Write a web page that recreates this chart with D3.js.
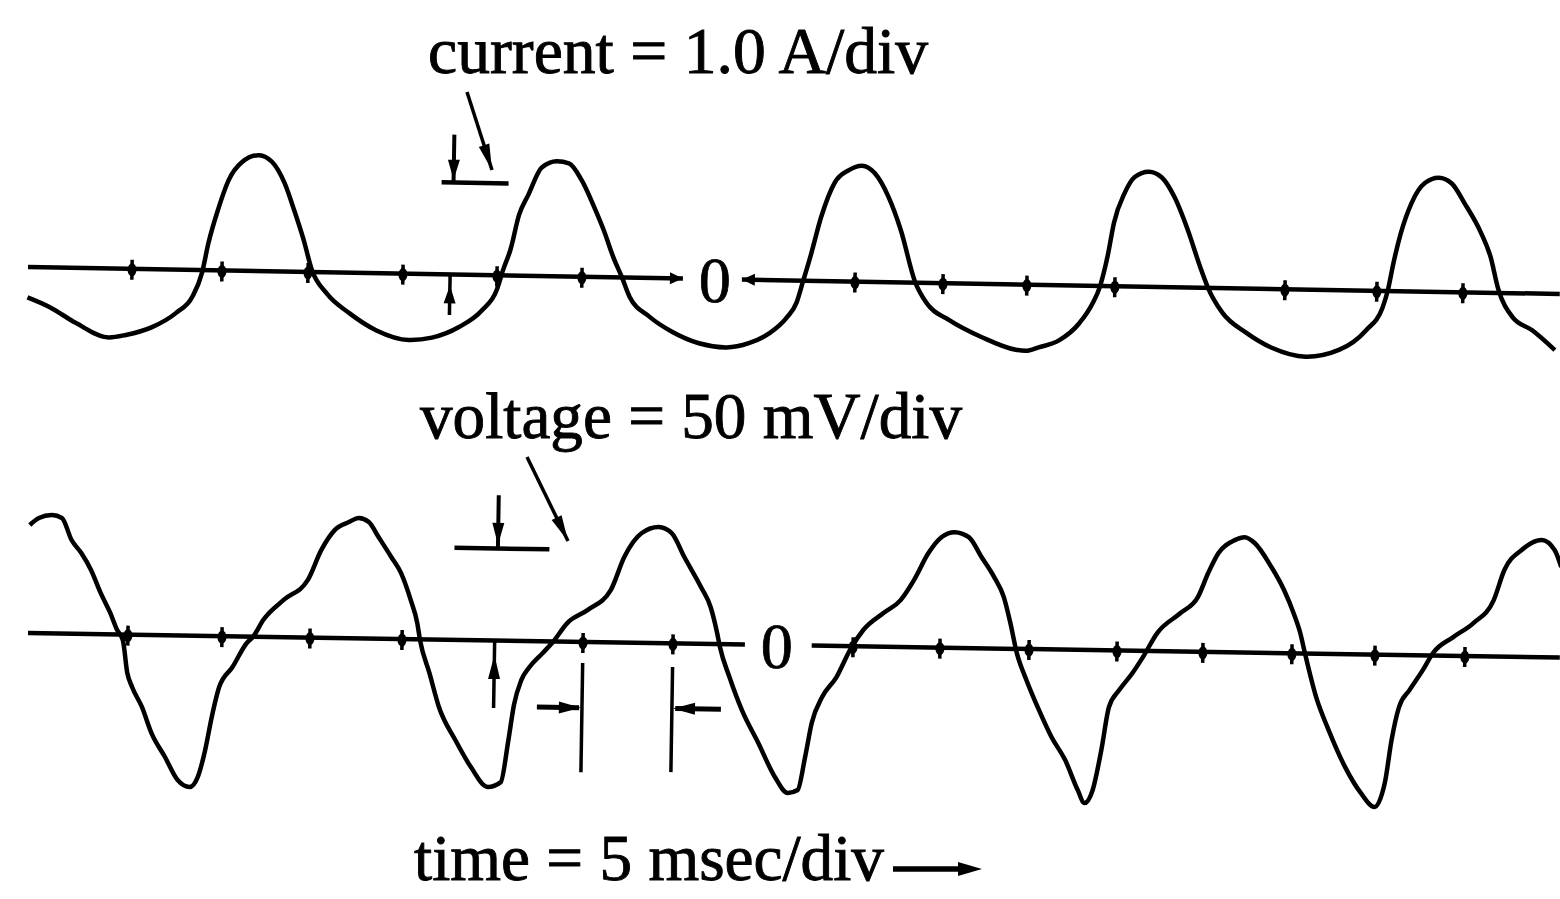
<!DOCTYPE html>
<html>
<head>
<meta charset="utf-8">
<script src="https://cdn.jsdelivr.net/npm/d3@7"></script>
<style>
  html, body { margin: 0; background: #fff; }
  svg { display: block; }
  text { font-family: "Liberation Serif", "Times New Roman", serif; fill: #000; }
</style>
</head>
<body>
<svg id="scope" width="1560" height="899"></svg>
<script>
// Oscilloscope trace: current (A) and voltage (mV) against time (ms), 5 ms/div.
// Values, one division = 1 A / 50 mV vertically.

const currentTrace = [
  [0.00,-0.33],[1.24,-0.43],[2.75,-0.60],[4.60,-0.75],[5.56,-0.72],[7.02,-0.63],[8.36,-0.47],
  [9.26,-0.29],[9.77,-0.03],[10.11,0.30],[10.61,0.66],[11.17,0.98],[11.90,1.18],[12.86,1.26],
  [13.59,1.19],[14.32,0.96],[14.88,0.67],[15.44,0.35],[15.94,0.02],[16.79,-0.23],[18.08,-0.44],
  [19.59,-0.62],[21.45,-0.72],[22.74,-0.69],[24.25,-0.57],[25.54,-0.38],[26.33,-0.16],[26.67,0.06],
  [27.06,0.28],[27.51,0.66],[28.01,0.88],[28.74,1.18],[29.59,1.25],[30.26,1.23],[30.99,1.05],
  [31.72,0.76],[32.28,0.51],[32.84,0.22],[33.35,0.00],[33.80,-0.21],[34.92,-0.42],[36.21,-0.58],
  [37.73,-0.70],[39.24,-0.74],[40.53,-0.69],[41.66,-0.58],[42.61,-0.41],[43.17,-0.24],[43.51,-0.01],
  [43.90,0.26],[44.46,0.69],[45.19,1.07],[45.98,1.21],[46.71,1.26],[47.44,1.18],[48.22,0.93],
  [48.95,0.57],[49.80,0.01],[50.47,-0.22],[51.76,-0.40],[53.61,-0.58],[55.52,-0.71],[56.08,-0.72],
  [56.81,-0.68],[57.94,-0.60],[59.06,-0.41],[59.79,-0.19],[60.18,-0.01],[60.58,0.32],[60.91,0.69],
  [61.47,1.01],[62.03,1.19],[62.82,1.25],[63.55,1.19],[64.28,0.98],[65.07,0.62],[65.80,0.22],
  [66.25,0.00],[67.09,-0.27],[68.43,-0.48],[69.89,-0.64],[71.80,-0.73],[73.66,-0.65],[75.17,-0.43],
  [76.07,-0.18],[76.35,0.01],[76.63,0.30],[77.02,0.63],[77.59,0.96],[78.32,1.18],[79.10,1.24],
  [79.83,1.18],[80.56,0.97],[81.52,0.65],[82.08,0.39],[82.53,0.05],[83.37,-0.26],[84.49,-0.40],
  [85.78,-0.61]
];

const voltageTrace = [
  [0.00,58.7],[0.51,62.6],[1.24,64.3],[1.80,62.8],[2.36,50.9],[2.92,43.9],[3.48,34.8],[4.04,22.4],
  [4.60,11.6],[5.00,2.4],[5.33,-3.0],[5.61,-20.9],[5.89,-28.4],[6.46,-39.2],[7.02,-53.3],[7.80,-66.2],
  [8.53,-78.6],[9.21,-82.3],[9.66,-76.7],[10.05,-62.0],[10.39,-44.0],[10.78,-27.7],[11.51,-16.7],
  [12.29,-3.5],[12.63,-0.2],[13.19,9.1],[14.32,20.2],[15.66,31.3],[16.39,47.7],[17.12,58.6],
  [17.91,63.1],[18.47,65.4],[19.03,63.3],[19.59,55.2],[20.32,44.5],[20.88,35.9],[21.45,21.3],
  [21.84,8.8],[22.01,-0.4],[22.57,-18.3],[23.13,-36.6],[24.08,-54.4],[24.98,-69.0],[25.94,-79.7],
  [26.67,-76.9],[27.06,-54.0],[27.34,-34.9],[27.73,-21.3],[28.18,-14.1],[28.91,-6.4],[29.47,-0.3],
  [30.26,10.1],[31.38,17.3],[32.67,28.4],[33.40,46.5],[34.36,59.7],[35.31,63.1],[36.04,59.9],
  [36.77,47.0],[37.73,30.9],[38.29,20.1],[38.68,6.0],[38.85,-1.6],[39.41,-17.8],[40.14,-35.7],
  [41.09,-53.4],[42.05,-71.7],[42.78,-80.3],[43.34,-78.6],[43.73,-60.6],[44.07,-42.1],[44.63,-27.9],
  [45.42,-16.9],[46.15,-2.1],[46.88,8.9],[48.00,18.3],[48.95,25.5],[49.68,36.5],[50.47,51.3],
  [51.20,60.1],[51.93,62.9],[52.72,60.3],[53.45,49.6],[54.18,38.8],[54.74,28.0],[55.13,14.0],
  [55.52,-2.3],[56.08,-16.8],[56.81,-33.0],[57.54,-47.6],[58.33,-60.0],[59.06,-76.2],[59.45,-83.2],
  [59.90,-76.0],[60.35,-54.2],[60.74,-30.8],[61.30,-21.5],[62.03,-12.1],[62.60,-3.4],[63.38,9.8],
  [64.67,20.9],[65.63,29.7],[66.19,42.9],[66.75,53.8],[67.65,61.0],[68.21,62.7],[68.77,59.6],
  [69.73,46.7],[70.46,34.3],[71.02,21.8],[71.41,11.1],[71.69,0.2],[72.36,-23.6],[73.09,-41.4],
  [74.05,-61.4],[74.95,-75.3],[75.73,-82.8],[76.29,-69.7],[76.63,-46.3],[77.02,-28.3],[77.59,-19.0],
  [78.32,-8.0],[78.88,1.4],[80.00,10.2],[81.12,18.0],[82.24,30.7],[82.81,47.1],[83.76,58.1],
  [84.88,63.7],[85.61,58.4],[86.00,49.2]
];

// graticule marks along each zero line (ms)
const currentTicks = [5.84, 10.89, 15.72, 21.05, 26.33, 31.10, 46.43, 51.37, 56.08, 61.02, 70.57, 75.73, 80.56];
const voltageTicks = [5.61, 10.89, 15.83, 21.00, 31.16, 36.21, 46.32, 51.20, 56.20, 61.14, 65.96, 70.96, 75.62, 80.67];
// where each zero line is broken for its "0" label (ms)
const currentGap = [36.77, 40.08];
const voltageGap = [40.25, 44.00];
const zeroAt = [38.57, 42.05];

const captions = ["current = 1.0 A/div", "voltage = 50 mV/div", "time = 5 msec/div"];

const INK = "#000";
const svg = d3.select("#scope");
const T_END = 86;
const x = d3.scaleLinear().domain([0, T_END]).range([28, 1560]);
const yCur = d3.scaleLinear().domain([-1, 1]).range([267 + 92, 267 - 92]);
const yVolt = d3.scaleLinear().domain([-50, 50]).range([633 + 92, 633 - 92]);

const traceLine = ys => d3.line()
  .x(d => x(d[0])).y(d => ys(d[1]))
  .curve(d3.curveMonotoneX);

// filled arrowhead, tip at (tx,ty), pointing along ang (radians)
function head(g, tx, ty, ang, len, wid) {
  const bx = tx - Math.cos(ang) * len, by = ty - Math.sin(ang) * len;
  const nx = -Math.sin(ang) * wid / 2, ny = Math.cos(ang) * wid / 2;
  g.append("path")
    .attr("d", `M${tx},${ty}L${bx + nx},${by + ny}L${bx - nx},${by - ny}Z`)
    .attr("fill", INK);
}
function seg(g, x1, y1, x2, y2, w) {
  return g.append("line")
    .attr("x1", x1).attr("y1", y1).attr("x2", x2).attr("y2", y2)
    .attr("stroke", INK).attr("stroke-width", w).attr("stroke-linecap", "butt");
}

// the scan sits slightly crooked, so each trace panel is tilted a touch
function panel(ys, tilt, trace, ticks, gap, zeroT) {
  const y0 = ys(0);
  const g = svg.append("g").attr("transform", `rotate(${tilt},${x(0)},${y0})`);

  g.selectAll("line.axis").data([[0, gap[0]], [gap[1], T_END]]).join("line")
    .attr("class", "axis")
    .attr("x1", d => x(d[0])).attr("x2", d => x(d[1]))
    .attr("y1", y0).attr("y2", y0)
    .attr("stroke", INK).attr("stroke-width", 4.5);

  g.selectAll("line.tick").data(ticks).join("line")
    .attr("class", "tick")
    .attr("x1", d => x(d)).attr("x2", d => x(d))
    .attr("y1", y0 - 9).attr("y2", y0 + 11)
    .attr("stroke", INK).attr("stroke-width", 3.5);
  g.selectAll("ellipse.tick").data(ticks).join("ellipse")
    .attr("class", "tick")
    .attr("cx", d => x(d)).attr("cy", y0 + 1)
    .attr("rx", 4.5).attr("ry", 6.5).attr("fill", INK);

  g.append("path").datum(trace)
    .attr("d", traceLine(ys))
    .attr("fill", "none").attr("stroke", INK)
    .attr("stroke-width", 4.5).attr("stroke-linejoin", "round");

  g.append("text").text("0")
    .attr("x", x(zeroT)).attr("y", y0 + 23)
    .attr("text-anchor", "middle")
    .attr("stroke", INK).attr("stroke-width", 0.8)
    .style("font-size", "64px");
  return g;
}

const gI = panel(yCur, 1.01, currentTrace, currentTicks, currentGap, zeroAt[0]);
const gV = panel(yVolt, 0.92, voltageTrace, voltageTicks, voltageGap, zeroAt[1]);

// arrow tips where the current zero line breaks
head(gI, x(currentGap[0]), yCur(0), 0, 13, 12);
head(gI, x(currentGap[1]), yCur(0), Math.PI, 13, 12);

// ---------- one-division markers ----------
// current: 1 A between the ⊥ bar and the zero line
seg(gI, x(23.8), yCur(1.52), x(23.8), yCur(1.0), 4);
head(gI, x(23.8), yCur(1.03), Math.PI / 2, 20, 12);
seg(gI, x(23.13), yCur(1.0), x(26.89), yCur(1.0), 4.5);
seg(gI, x(23.7), yCur(-0.44), x(23.7), yCur(0), 3.5);
head(gI, x(23.7), yCur(-0.12), -Math.PI / 2, 18, 12);

// voltage: 50 mV
seg(gV, x(26.3), yVolt(79), x(26.3), yVolt(50), 4);
head(gV, x(26.3), yVolt(52), Math.PI / 2, 22, 12);
seg(gV, x(23.86), yVolt(50), x(29.19), yVolt(50), 4.5);
seg(gV, x(26.2), yVolt(-36.7), x(26.2), yVolt(0), 3.5);
head(gV, x(26.2), yVolt(-7.9), -Math.PI / 2, 24, 12);

// time: 5 ms between two fences
seg(gV, x(31.16), yVolt(-11.5), x(31.16), yVolt(-70.8), 3.5);
seg(gV, x(36.21), yVolt(-12.9), x(36.21), yVolt(-70.0), 3.5);
seg(gV, x(28.63), yVolt(-35.8), x(31.0), yVolt(-35.8), 5);
head(gV, x(31.1), yVolt(-35.8), 0, 22, 12);
seg(gV, x(38.96), yVolt(-35.4), x(36.4), yVolt(-35.4), 5);
head(gV, x(36.27), yVolt(-35.4), Math.PI, 22, 12);

// ---------- captions ----------
const capPos = [[428, 73, 500], [420, 438, 542], [414, 880, 470]];
svg.selectAll("text.cap").data(captions).join("text")
  .attr("class", "cap")
  .text(d => d)
  .attr("x", (d, i) => capPos[i][0]).attr("y", (d, i) => capPos[i][1])
  .attr("textLength", (d, i) => capPos[i][2]).attr("lengthAdjust", "spacingAndGlyphs")
  .attr("stroke", INK).attr("stroke-width", 0.9)
  .style("font-size", "65px");

// pointers from the captions to the scale marks
function pointer(x1, y1, x2, y2) {
  seg(svg, x1, y1, x2, y2, 3.5);
  head(svg, x2, y2, Math.atan2(y2 - y1, x2 - x1), 26, 11);
}
pointer(467, 92, 492, 170);
pointer(527, 457, 568, 541);

// time direction arrow
seg(svg, 893, 869, 962, 869, 5.5);
head(svg, 982, 869, 0, 24, 14);
</script>
</body>
</html>
